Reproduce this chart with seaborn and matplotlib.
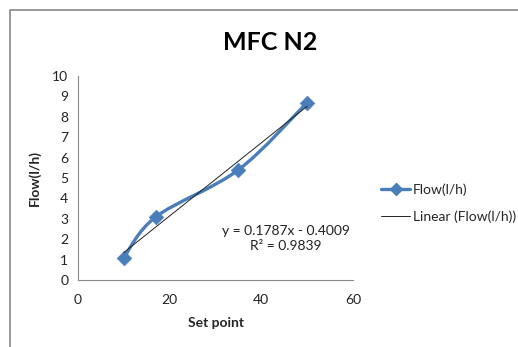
import numpy as np
import pandas as pd
import matplotlib
matplotlib.use("Agg")
import matplotlib.pyplot as plt
from matplotlib.path import Path
from matplotlib.patches import PathPatch, Rectangle
from matplotlib.lines import Line2D
import seaborn as sns

set_point = [10, 17, 35, 50]
flow = [1.1, 3.1, 5.4, 8.7]
x_ticks = [0, 20, 40, 60]
y_ticks = list(range(0, 11))
title = "MFC N2"
eq_text = "y = 0.1787x - 0.4009\nR² = 0.9839"

sns.set_style("white")
plt.rcParams['font.family'] = ['Lato', 'DejaVu Sans']

W, H = 518, 347
fig = plt.figure(figsize=(W / 100, H / 100), dpi=100)
ax = fig.add_axes([78 / W, 1 - 280 / H, (353 - 78) / W, (280 - 76) / H])

df = pd.DataFrame({"Set point": set_point, "Flow(l/h)": flow})
blue = "#4A7EBB"

# Excel-like smoothed line: cubic Bezier segments through the data points
P = np.column_stack([set_point, flow]).astype(float)
verts = [tuple(P[0])]
codes = [Path.MOVETO]
n = len(P)
for i in range(n - 1):
    p0 = P[i - 1] if i > 0 else P[i]
    p1 = P[i]
    p2 = P[i + 1]
    p3 = P[i + 2] if i + 2 < n else P[i + 1]
    c1 = p1 + (p2 - p0) / 6.0
    c2 = p2 - (p3 - p1) / 6.0
    verts += [tuple(c1), tuple(c2), tuple(p2)]
    codes += [Path.CURVE4] * 3
ax.add_patch(PathPatch(Path(verts, codes), facecolor="none", edgecolor=blue,
                       lw=2.4, zorder=3, capstyle="round", joinstyle="round"))

sns.scatterplot(data=df, x="Set point", y="Flow(l/h)", marker="D", s=55,
                color=blue, edgecolor=blue, linewidth=0.5, ax=ax, zorder=4)
sns.regplot(data=df, x="Set point", y="Flow(l/h)", scatter=False, ci=None,
            truncate=True, line_kws=dict(color="#222222", lw=0.7, zorder=5), ax=ax)

ax.set_xlim(0, 60)
ax.set_ylim(0, 10)
ax.set_xticks(x_ticks)
ax.set_yticks(y_ticks)
ax.tick_params(axis="both", direction="out", length=4, width=0.8, color="#888888",
               labelsize=10, labelcolor="#222222", pad=3)
ax.tick_params(axis="x", pad=6)
for s in ["top", "right"]:
    ax.spines[s].set_visible(False)
for s in ["left", "bottom"]:
    ax.spines[s].set_color("#888888")
    ax.spines[s].set_linewidth(0.8)
ax.set_xlabel("Set point", fontsize=10, fontweight="bold", labelpad=8)
ax.set_ylabel("Flow(l/h)", fontsize=10, fontweight="bold", labelpad=8)

ax.text(45.4, 2.05, eq_text, ha="center", va="center", fontsize=10,
        color="#222222", linespacing=1.3)

fig.text(270 / W, 1 - 42 / H, title, ha="center", va="center", fontsize=18,
         fontweight="bold", color="black")

handles = [Line2D([], [], color=blue, lw=2.4, marker="D", markersize=6),
           Line2D([], [], color="#222222", lw=0.7)]
fig.legend(handles, ["Flow(l/h)", "Linear (Flow(l/h))"], loc="upper left",
           bbox_to_anchor=(381 / W, 1 - 183 / H), frameon=False, fontsize=10,
           handlelength=2.1, handletextpad=0.2, labelspacing=1.05,
           borderpad=0, borderaxespad=0)

fig.patches.append(Rectangle((10 / W, -0.1), 1.2, 1 - 10 / H + 0.1,
                             transform=fig.transFigure, fill=False,
                             edgecolor="#888888", lw=1.2))

fig.savefig("out.png", dpi=100)
